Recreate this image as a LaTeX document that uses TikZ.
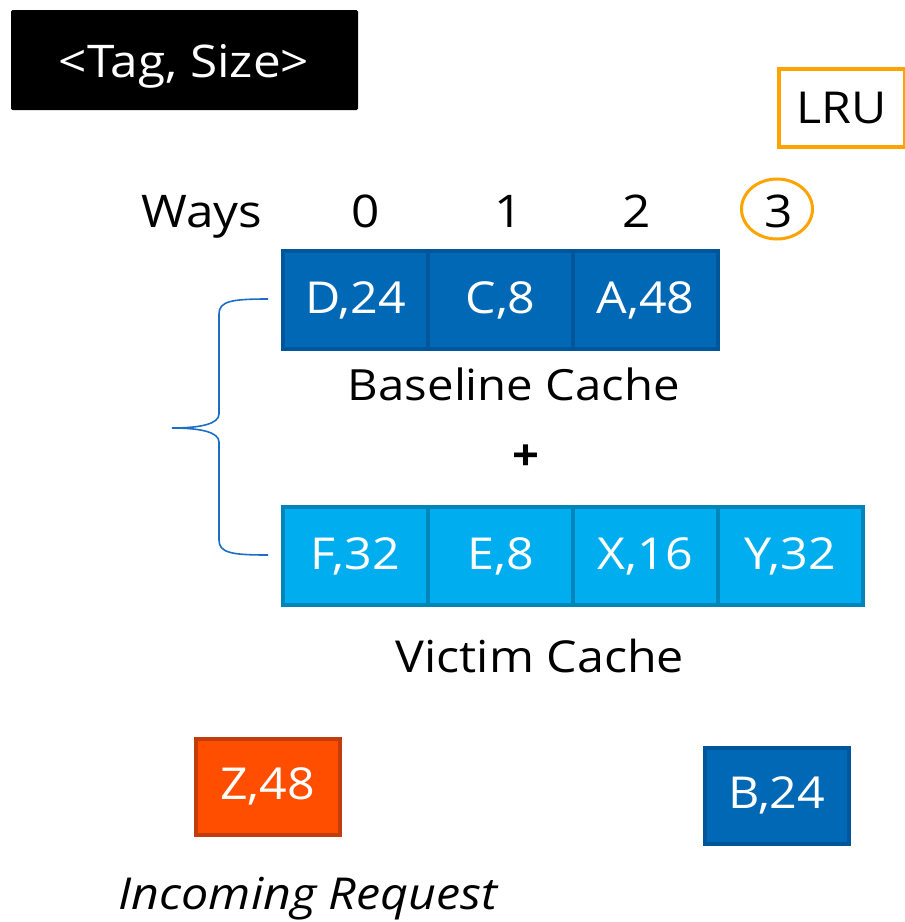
\documentclass[tikz,border=0pt]{standalone}
\usepackage{fontspec}
\setmainfont{Open Sans}[FakeStretch=1.1]
\usetikzlibrary{shapes.geometric}
\definecolor{cacheblue}{HTML}{0068B5}
\definecolor{cacheblueedge}{HTML}{00569A}
\definecolor{victimblue}{HTML}{00AEEF}
\definecolor{victimedge}{HTML}{0085BA}
\definecolor{reqorange}{HTML}{FF4E00}
\definecolor{reqedge}{HTML}{C23C0C}
\definecolor{lruorange}{HTML}{FFA300}
\definecolor{bracecol}{HTML}{1C6FC6}
\newcommand\fsz[1]{\fontsize{#1}{#1}\selectfont}
\tikzset{
  lbl/.style={font=\fsz{43}, text=black, inner sep=0pt, anchor=base},
  cell/.style={minimum width=145pt, minimum height=98pt, line width=4pt, inner sep=0pt,
               text=white, font=\fsz{44}},
  basecell/.style={cell, fill=cacheblue, draw=cacheblueedge},
  victcell/.style={cell, fill=victimblue, draw=victimedge},
}
\begin{document}
\begin{tikzpicture}[x=1pt,y=-1pt]
\useasboundingbox (0,0) rectangle (905,922);

% legend
\node[fill=black, rounded corners=1.5pt, minimum width=347pt, minimum height=100pt, inner sep=0pt]
  (legend) at (184.5,60) {};
\node[lbl, text=white, font=\fsz{45}] (legendtext) at (184,77) {<Tag, Size>};
\node[draw=lruorange, line width=3.5pt, minimum width=126pt, minimum height=78pt, inner sep=0pt]
  (lru) at (842,108) {};
\node[lbl, font=\fsz{44}] (lrutext) at (842,123) {LRU};

% way indices
\node[lbl, font=\fsz{45}] (ways) at (202,227) {Ways};
\node[lbl, font=\fsz{45}] (w0) at (366,227) {0};
\node[lbl, font=\fsz{45}] (w1) at (509,227) {1};
\node[lbl, font=\fsz{45}] (w2) at (637,227) {2};
\node[lbl, font=\fsz{45}] (w3) at (779,227) {3};
\node[draw=lruorange, line width=3pt, ellipse, minimum width=71pt, minimum height=60pt] (w3ring)
  at (777,209) {};

% baseline cache
\node[basecell] (b0) at (355.5,300) {D,24};
\node[basecell] (b1) at (500.5,300) {C,8};
\node[basecell] (b2) at (645.5,300) {A,48};
\node[lbl] (basename) at (514,400) {Baseline Cache};
\node[lbl, font=\fsz{43}\bfseries, anchor=center] (plus) at (526,458) {+};

% victim cache
\node[victcell] (v0) at (355.5,556) {F,32};
\node[victcell] (v1) at (500.5,556) {E,8};
\node[victcell] (v2) at (645.5,556) {X,16};
\node[victcell] (v3) at (790.5,556) {Y,32};
\node[lbl, font=\fsz{44}] (victname) at (540,672) {Victim Cache};

% brace grouping both caches
\coordinate (bt) at (268,299);
\coordinate (bb) at (268,555);
\coordinate (tip) at (172,428);
\draw[bracecol, line width=1.6pt]
  (bt) .. controls (232,299) and (219,301) .. (219,314)
  -- (219,414) .. controls (219,424) and (200,428) .. (tip)
  .. controls (200,428) and (219,432) .. (219,442)
  -- (219,540) .. controls (219,553) and (232,555) .. (bb);

% incoming request and evicted entry
\node[cell, fill=reqorange, draw=reqedge, minimum width=144pt, minimum height=96pt] (req) at (267.5,786.5) {Z,48};
\node[lbl, font=\fsz{44}\itshape] (reqname) at (308,909) {Incoming Request};
\node[basecell, minimum width=144pt, minimum height=96pt] (evict) at (777,795.5) {B,24};
\end{tikzpicture}
\end{document}
